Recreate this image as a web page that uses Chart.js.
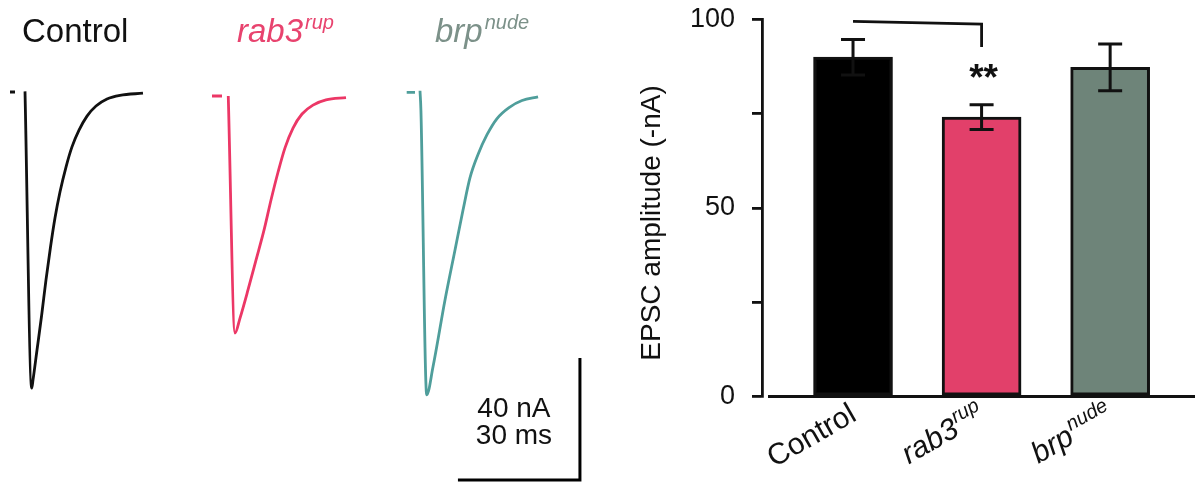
<!DOCTYPE html>
<html><head><meta charset="utf-8">
<script src="https://cdn.jsdelivr.net/npm/chart.js@4.4.0/dist/chart.umd.min.js"></script>
<style>
html,body{margin:0;padding:0;background:#fff;}
#wrap{position:relative;width:1196px;height:484px;overflow:hidden;background:#fff;}
#traces{position:absolute;left:0;top:0;width:600px;height:484px;}
#bars{position:absolute;left:600px;top:0;width:596px;height:484px;}
canvas{display:block;}
</style></head><body>
<div id="wrap">
  <div id="traces"><canvas id="c1" width="600" height="484"></canvas></div>
  <div id="bars"><canvas id="c2" width="596" height="484"></canvas></div>
</div>
<script>
const FONT = '"Liberation Sans", Arial, Helvetica, sans-serif';

// ---------- Bar chart data ----------
const categories = ['Control', 'rab3', 'brp'];
const categorySup = ['', 'rup', 'nude'];
const categoryItalic = [false, true, true];
const amplitude = [90.0, 74.1, 87.3];   // EPSC amplitude (-nA)
const sem = [4.7, 3.3, 6.2];
const yTickValues = [0, 25, 50, 75, 100];
const yTickLabels = ['0', '', '50', '', '100'];
const yTitle = 'EPSC amplitude (-nA)';
const sigBracketX = [0, 1, 1];
const sigBracketY = [99.5, 98.8, 92.7];
const sigLabel = '**';
const sigLabelY = 81.3;

// ---------- Trace data (time in ms from sweep start, current in nA) ----------
const controlTime    = [0, 1.23, null, 3.69, 5.34, 5.66, 6.64, 7.79, 8.85, 9.96, 11.06, 12.29, 13.77, 15.24, 16.97, 18.94, 21.15, 23.85, 27.05, 32.7];
const controlCurrent = [0, 0, null, 0.2, -97.1, -94.4, -84.6, -73.1, -61.6, -50.8, -41.3, -32.8, -24.6, -18.0, -12.5, -7.9, -4.6, -2.3, -1.1, -0.4];
const rab3Time    = [0, 2.46, null, 4.0, 5.65, 6.89, 8.85, 10.82, 12.79, 14.51, 16.23, 17.95, 19.92, 22.13, 24.83, 28.03, 32.95];
const rab3Current = [0, 0, null, 0, -77.7, -72.8, -63.6, -53.8, -44.0, -34.1, -25.0, -17.0, -10.5, -5.9, -3.0, -1.3, -0.5];
const brpTime    = [0, 2.04, null, 3.27, 3.5, 4.92, 6.47, 9.42, 11.88, 13.85, 15.57, 17.54, 19.75, 22.21, 25.16, 28.36, 32.30];
const brpCurrent = [0, 0, null, 0.5, -6.0, -99.2, -90.0, -68.1, -51.7, -38.6, -28.0, -20.4, -13.9, -8.6, -5.0, -2.7, -1.5];
const traceTitles = ['Control', 'rab3', 'brp'];
const traceTitleSup = ['', 'rup', 'nude'];
const scaleBarCurrent = 40;  // nA
const scaleBarTime = 30;     // ms
const scaleBarLabels = ['40 nA', '30 ms'];

// ---------- Styles ----------
const traceColors = ['#111111', '#EC3766', '#4F9E9B'];
const titleColors = ['#111111', '#E8436E', '#7C9189'];
const barColors = ['#000000', '#E2406A', '#6E8479'];

// ---------- Trace chart layout (pixel placement of each sweep) ----------
const pxPerMs = 122 / 30;
const pxPerNa = 122 / 40;
const traceOrigins = [{x: 10, y: 92}, {x: 212, y: 96}, {x: 406.7, y: 92.3}];
const W1 = 600, H1 = 484;

function pts(t, v) { return t.map((x, i) => ({x: x, y: v[i]})); }

const traceScales = {};
traceOrigins.forEach((o, i) => {
  traceScales['x' + i] = {type: 'linear', display: false, min: -o.x / pxPerMs, max: (W1 - o.x) / pxPerMs};
  traceScales['y' + i] = {type: 'linear', display: false, min: -(H1 - o.y) / pxPerNa, max: o.y / pxPerNa};
});

const traceSets = [[controlTime, controlCurrent], [rab3Time, rab3Current], [brpTime, brpCurrent]].map((d, i) => ({
  data: pts(d[0], d[1]), xAxisID: 'x' + i, yAxisID: 'y' + i,
  borderColor: traceColors[i], borderWidth: 2.8, pointRadius: 0, tension: 0,
  cubicInterpolationMode: 'monotone', spanGaps: false, fill: false
}));

// scale bar, drawn on the brp sweep axes
const sbCornerT = 42.6, sbCornerI = -127.1;
traceSets.push({
  data: [{x: sbCornerT - scaleBarTime, y: sbCornerI}, {x: sbCornerT, y: sbCornerI}, {x: sbCornerT, y: sbCornerI + scaleBarCurrent}],
  xAxisID: 'x2', yAxisID: 'y2', borderColor: '#000', borderWidth: 3, pointRadius: 0, tension: 0, fill: false,
  borderJoinStyle: 'miter', borderCapStyle: 'butt'
});

function drawSup(ctx, x, y, main, sup, italic, mainSize, supSize, raise, color) {
  ctx.save();
  ctx.fillStyle = color; ctx.textAlign = 'left'; ctx.textBaseline = 'alphabetic';
  ctx.font = (italic ? 'italic ' : '') + mainSize + 'px ' + FONT;
  ctx.fillText(main, x, y);
  const w = ctx.measureText(main).width;
  if (sup) {
    ctx.font = (italic ? 'italic ' : '') + supSize + 'px ' + FONT;
    ctx.fillText(sup, x + w + 2, y - raise);
  }
  ctx.restore();
}

const traceTextPlugin = {
  id: 'traceText',
  afterDraw(chart) {
    const ctx = chart.ctx;
    const titleX = [22, 237, 435];
    traceTitles.forEach((t, i) => {
      drawSup(ctx, titleX[i], 42, t, traceTitleSup[i], i > 0, 33, 20, 13, titleColors[i]);
    });
    const xs = chart.scales.x2, ys = chart.scales.y2;
    const cx = xs.getPixelForValue(sbCornerT), cy = ys.getPixelForValue(sbCornerI);
    ctx.save();
    ctx.fillStyle = '#111'; ctx.font = '28px ' + FONT; ctx.textAlign = 'center'; ctx.textBaseline = 'alphabetic';
    ctx.fillText(scaleBarLabels[0], cx - 66, cy - 63);
    ctx.fillText(scaleBarLabels[1], cx - 66, cy - 36);
    ctx.restore();
  }
};

new Chart(document.getElementById('c1'), {
  type: 'line',
  data: {datasets: traceSets},
  options: {
    responsive: false, animation: false, devicePixelRatio: 1,
    layout: {padding: 0},
    plugins: {legend: {display: false}, tooltip: {enabled: false}},
    scales: traceScales
  },
  plugins: [traceTextPlugin]
});

// ---------- Bar chart ----------
const barPlugin = {
  id: 'barExtras',
  afterDatasetsDraw(chart) {
    const ctx = chart.ctx, xs = chart.scales.x, ys = chart.scales.y, ca = chart.chartArea;
    ctx.save();
    ctx.strokeStyle = '#111'; ctx.lineWidth = 3; ctx.lineCap = 'butt';
    amplitude.forEach((v, i) => {
      const x = xs.getPixelForValue(i);
      const yTop = ys.getPixelForValue(v + sem[i]), yBot = ys.getPixelForValue(v - sem[i]);
      ctx.beginPath();
      ctx.moveTo(x, yTop); ctx.lineTo(x, yBot);
      ctx.moveTo(x - 12, yTop); ctx.lineTo(x + 12, yTop);
      ctx.moveTo(x - 12, yBot); ctx.lineTo(x + 12, yBot);
      ctx.stroke();
    });
    // x axis line (offset from y axis)
    const y0 = ys.getPixelForValue(0);
    ctx.beginPath(); ctx.lineWidth = 2.8;
    ctx.moveTo(ca.left + 6, y0); ctx.lineTo(ca.right, y0); ctx.stroke();
    // significance stars
    ctx.fillStyle = '#111'; ctx.font = 'bold 37px ' + FONT; ctx.textAlign = 'center'; ctx.textBaseline = 'alphabetic';
    ctx.fillText(sigLabel, xs.getPixelForValue(sigBracketX[2]) + 2, ys.getPixelForValue(sigLabelY));
    // x category labels, rotated
    categories.forEach((c, i) => {
      const x = xs.getPixelForValue(i) + 5, y = y0 + 23;
      ctx.save();
      ctx.translate(x, y); ctx.rotate(-Math.PI / 6);
      ctx.textAlign = 'right'; ctx.textBaseline = 'alphabetic'; ctx.fillStyle = '#111';
      let sw = 0;
      if (categorySup[i]) {
        ctx.font = 'italic 20px ' + FONT;
        sw = ctx.measureText(categorySup[i]).width + 1;
        ctx.fillText(categorySup[i], 0, -12);
      }
      ctx.font = (categoryItalic[i] ? 'italic ' : '') + '30px ' + FONT;
      ctx.fillText(c, -sw, 0);
      ctx.restore();
    });
    // y title
    ctx.save();
    ctx.translate(52, 223); ctx.rotate(-Math.PI / 2);
    ctx.fillStyle = '#111'; ctx.font = '28px ' + FONT; ctx.textAlign = 'center'; ctx.textBaseline = 'middle';
    ctx.fillText(yTitle, 0, 0);
    ctx.restore();
    ctx.restore();
  }
};

new Chart(document.getElementById('c2'), {
  type: 'bar',
  data: {
    datasets: [
      {type: 'bar', data: pts(amplitude.map((_, i) => i), amplitude), backgroundColor: barColors,
       borderColor: '#111', borderWidth: 3, borderSkipped: false, barThickness: 79, order: 2},
      {type: 'line', data: pts(sigBracketX, sigBracketY), borderColor: '#111', borderWidth: 2.8,
       pointRadius: 0, tension: 0, fill: false, borderJoinStyle: 'miter', order: 1}
    ]
  },
  options: {
    responsive: false, animation: false, devicePixelRatio: 1,
    layout: {padding: {top: 19.5, right: 1, left: 0, bottom: 0}},
    plugins: {legend: {display: false}, tooltip: {enabled: false}},
    scales: {
      x: {type: 'linear', min: -0.708, max: 2.66, offset: false,
          grid: {display: false}, border: {display: false}, ticks: {display: false},
          afterFit(s) { s.height = 87.5; s.paddingLeft = 0; s.paddingRight = 0; }},
      y: {type: 'linear', min: 0, max: 100,
          afterBuildTicks(s) { s.ticks = yTickValues.map(v => ({value: v})); },
          ticks: {callback: (v) => yTickLabels[yTickValues.indexOf(v)], font: {size: 27, family: FONT}, color: '#111', padding: 17},
          grid: {drawOnChartArea: false, drawTicks: true, tickLength: 10, lineWidth: 2.8, color: '#111'},
          border: {display: true, width: 2.8, color: '#111'},
          afterFit(s) { s.width = 162; s.paddingTop = 0; s.paddingBottom = 0; }}
    }
  },
  plugins: [barPlugin]
});
</script>
</body></html>
